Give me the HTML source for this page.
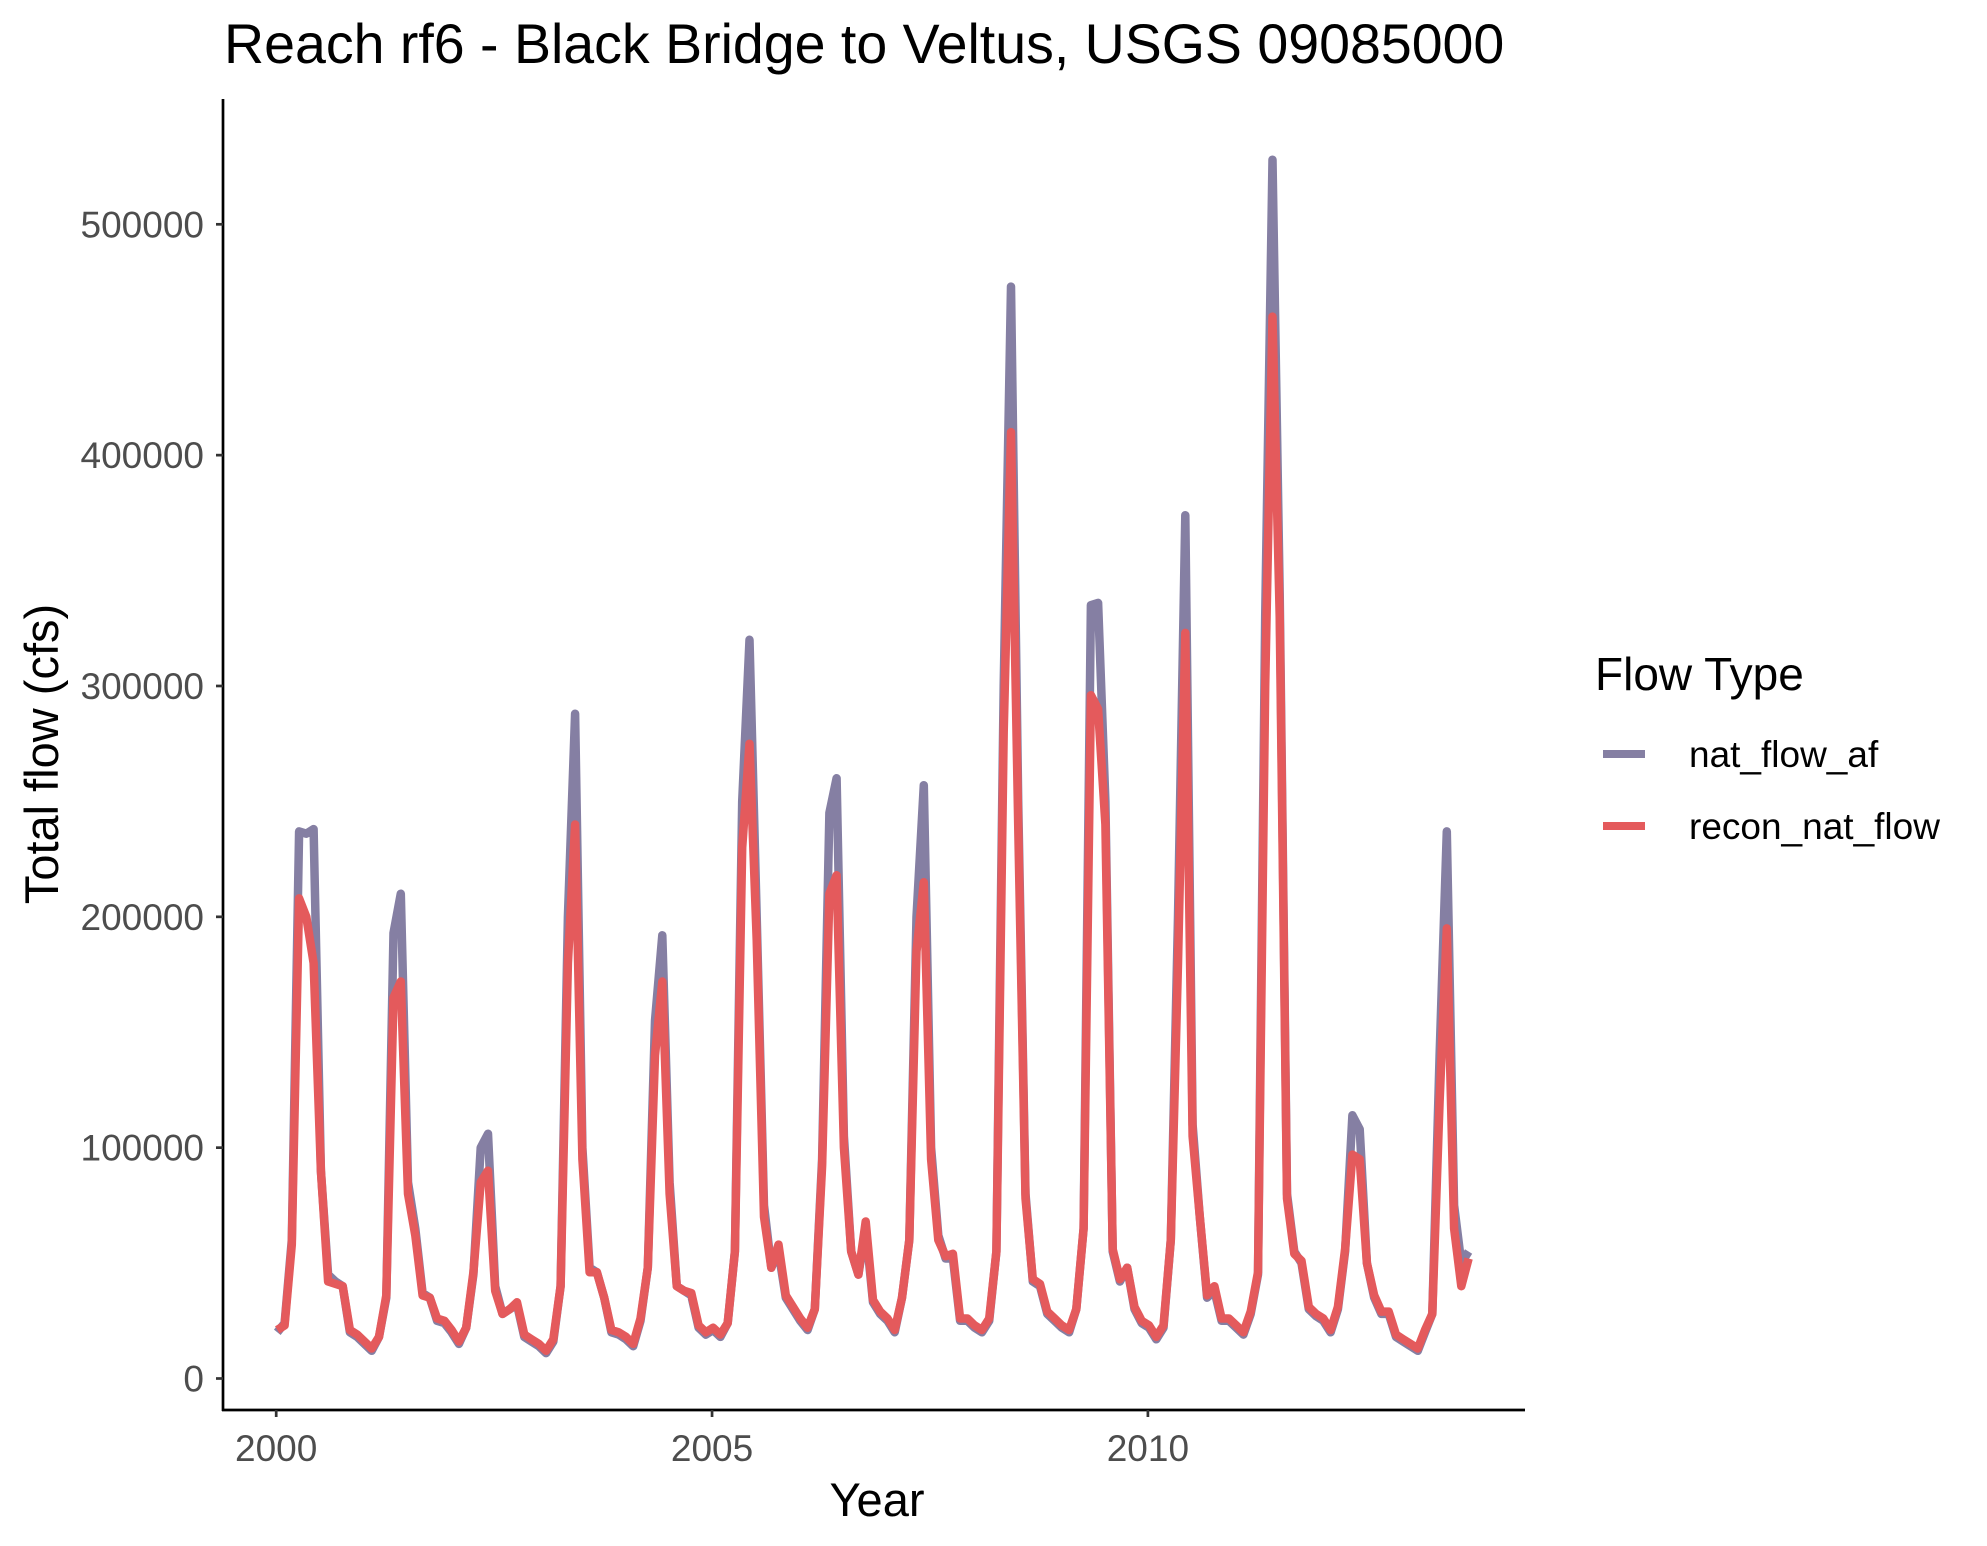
<!DOCTYPE html>
<html><head><meta charset="utf-8"><style>
html,body{margin:0;padding:0;background:#fff;}
svg{display:block;font-family:"Liberation Sans",sans-serif;}
</style></head><body>
<svg id="chart" width="1987" height="1546" viewBox="0 0 1987 1546">
<text x="224" y="63" font-size="55.5" fill="#000">Reach rf6 - Black Bridge to Veltus, USGS 09085000</text>
<g id="axes"></g>
<g id="series"></g>
<text x="877" y="1516" font-size="47" text-anchor="middle" fill="#000">Year</text>
<text transform="translate(58,754) rotate(-90)" font-size="47" text-anchor="middle" fill="#000">Total flow (cfs)</text>
<g>
<text x="1595" y="690" font-size="46" fill="#000">Flow Type</text>
<line x1="1603" y1="754" x2="1645" y2="754" stroke="#857fa3" stroke-width="8"/>
<text x="1689" y="767" font-size="37" fill="#000">nat_flow_af</text>
<line x1="1603" y1="826" x2="1645" y2="826" stroke="#e45a5c" stroke-width="8"/>
<text x="1689" y="839" font-size="37" fill="#000">recon_nat_flow</text>
</g>
</svg>
<script>
const startYear = 2000;
const natFlow = [
20,24,60,237,236,238,90,45,42,40,20,18,
15,12,18,35,193,210,85,65,37,35,25,24,
20,15,22,45,100,106,40,28,30,32,18,16,
14,11,16,40,200,288,100,48,46,35,20,19,
17,14,25,48,155,192,85,40,38,36,22,19,
21,18,24,55,250,320,200,75,48,55,35,30,
25,21,30,95,245,260,105,55,45,65,33,28,
25,20,35,60,200,257,100,62,52,52,25,25,
22,20,25,55,300,473,250,80,42,40,28,25,
22,20,30,65,335,336,250,55,42,48,30,24,
22,17,22,60,200,374,110,70,35,38,25,25,
22,19,28,45,330,528,340,80,55,50,30,27,
25,20,30,55,114,108,50,35,28,28,18,16,
14,12,20,28,140,237,75,50,55];
const reconFlow = [
21,23,58,208,200,180,90,42,41,40,21,19,
16,13,18,36,165,172,80,62,36,35,26,25,
21,16,22,46,85,90,38,28,30,33,19,17,
15,12,17,40,180,240,95,46,46,35,21,20,
18,15,26,48,140,172,80,40,38,37,23,20,
22,19,24,55,230,275,190,70,48,58,36,31,
26,22,30,92,210,218,100,55,45,68,34,29,
26,21,35,60,185,215,95,60,53,54,26,26,
23,21,26,55,280,410,240,78,43,41,29,26,
23,21,30,65,296,290,240,56,43,48,31,25,
23,18,23,60,180,323,105,70,36,40,26,26,
23,20,29,46,300,460,330,78,54,51,31,28,
26,21,31,56,97,95,50,36,29,29,19,17,
15,13,21,28,120,195,65,40,52];
const yTicks = [0,100000,200000,300000,400000,500000];
const xTicks = [2000,2005,2010];

const NS='http://www.w3.org/2000/svg';
const xScale = t => 276.2 + (t-2000)*(1147.9-276.2)/10;
const yScale = v => 1378.5 - v*(1378.5-224.3)/500000;
const axes=document.getElementById('axes');
const series=document.getElementById('series');
function mk(tag,attrs,parent){const e=document.createElementNS(NS,tag);for(const k in attrs)e.setAttribute(k,attrs[k]);parent.appendChild(e);return e;}

const yl=mk('line',{x1:223,y1:99,x2:223,y2:1411,stroke:'#000','stroke-width':2.7},axes);


const xl=mk('line',{x1:222,y1:1410,x2:1525,y2:1410,stroke:'#000','stroke-width':2.7},axes);


yTicks.forEach(v=>{
  const y=yScale(v);
  const tk=mk('line',{x1:216,y1:y,x2:223,y2:y,stroke:'#333','stroke-width':2.7},axes);
  
  
  const t=mk('text',{x:204,y:y+13,'font-size':37,'text-anchor':'end',fill:'#4d4d4d'},axes);
  t.textContent=String(v);
  
  
});
xTicks.forEach(v=>{
  const x=xScale(v);
  const tk=mk('line',{x1:x,y1:1410,x2:x,y2:1417,stroke:'#333','stroke-width':2.7},axes);
  
  
  const t=mk('text',{x:x,y:1461,'font-size':37,'text-anchor':'middle',fill:'#4d4d4d'},axes);
  t.textContent=String(v);
  
  
});
function drawLine(arr,color,name){
  const pts=arr.map((v,i)=>xScale(startYear+(i+0.15)/12).toFixed(1)+','+yScale(v*1000).toFixed(1)).join(' ');
  const p=mk('polyline',{points:pts,fill:'none',stroke:color,'stroke-width':8.5,'stroke-linejoin':'round'},series);
  
  
}
drawLine(natFlow,'#857fa3','nat-flow-line');
drawLine(reconFlow,'#e45a5c','recon-flow-line');
</script>
</body></html>
